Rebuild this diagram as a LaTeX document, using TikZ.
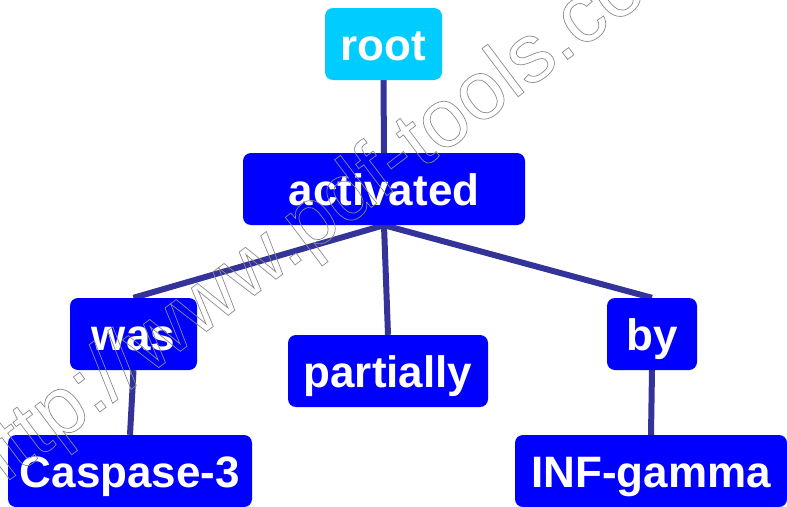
\documentclass[tikz,border=0pt]{standalone}
\usepackage{fontspec}
\setmainfont{Liberation Sans}
\definecolor{nodeblue}{RGB}{0,0,255}
\definecolor{rootcyan}{RGB}{0,204,255}
\definecolor{edgecol}{RGB}{51,51,153}
\definecolor{wmgray}{RGB}{140,140,140}
\newcommand\wmoutlineon{\special{pdf:literal direct 1 Tr 0.7 w}}
\newcommand\wmoutlineoff{\special{pdf:literal direct 0 Tr 1 w}}
\pgfdeclarelayer{edgelayer}
\pgfsetlayers{edgelayer,main}
\tikzset{
  box/.style={rounded corners=8pt, fill=nodeblue, text=white,
    font=\bfseries\fontsize{44}{44}\selectfont, inner sep=0pt,
    minimum height=72pt, text height=38pt, text depth=6pt, align=center},
  rootbox/.style={box, fill=rootcyan},
  edge/.style={draw=edgecol, line width=6pt},
  watermark/.style={text=wmgray, font=\fontsize{83}{83}\selectfont, inner sep=0pt, anchor=base west, rotate=37}
}
\begin{document}
\begin{tikzpicture}[x=1pt,y=1pt]
\useasboundingbox (0,0) rectangle (787,-506);
\clip (0,0) rectangle (787,-506);
\node[rootbox, minimum width=117pt] (root) at (383.5,-44) {root};
\node[box, minimum width=282pt] (act) at (384,-189) {activated};
\node[box, minimum width=127pt] (was) at (133.5,-334) {was};
\node[box, minimum width=200pt] (part) at (388,-371) {partially};
\node[box, minimum width=90pt] (by) at (652,-334) {by};
\node[box, minimum width=244pt] (cas) at (130,-471) {Caspase-3};
\node[box, minimum width=272pt] (inf) at (651,-471) {INF-gamma};
\begin{pgfonlayer}{edgelayer}
\fill[white] (0,0) rectangle (787,-506);
\draw[edge] (root.south) -- (act.north);
\draw[edge] (act.south) -- (was.north);
\draw[edge] (act.south) -- (part.north);
\draw[edge] (act.south) -- (by.north);
\draw[edge] (was.south) -- (cas.north);
\draw[edge] (by.south) -- (inf.north);
\end{pgfonlayer}
% watermark
\node[watermark] (wm) at (-17,-500) {\wmoutlineon http://www.pdf-tools.com\wmoutlineoff};
\end{tikzpicture}
\end{document}
